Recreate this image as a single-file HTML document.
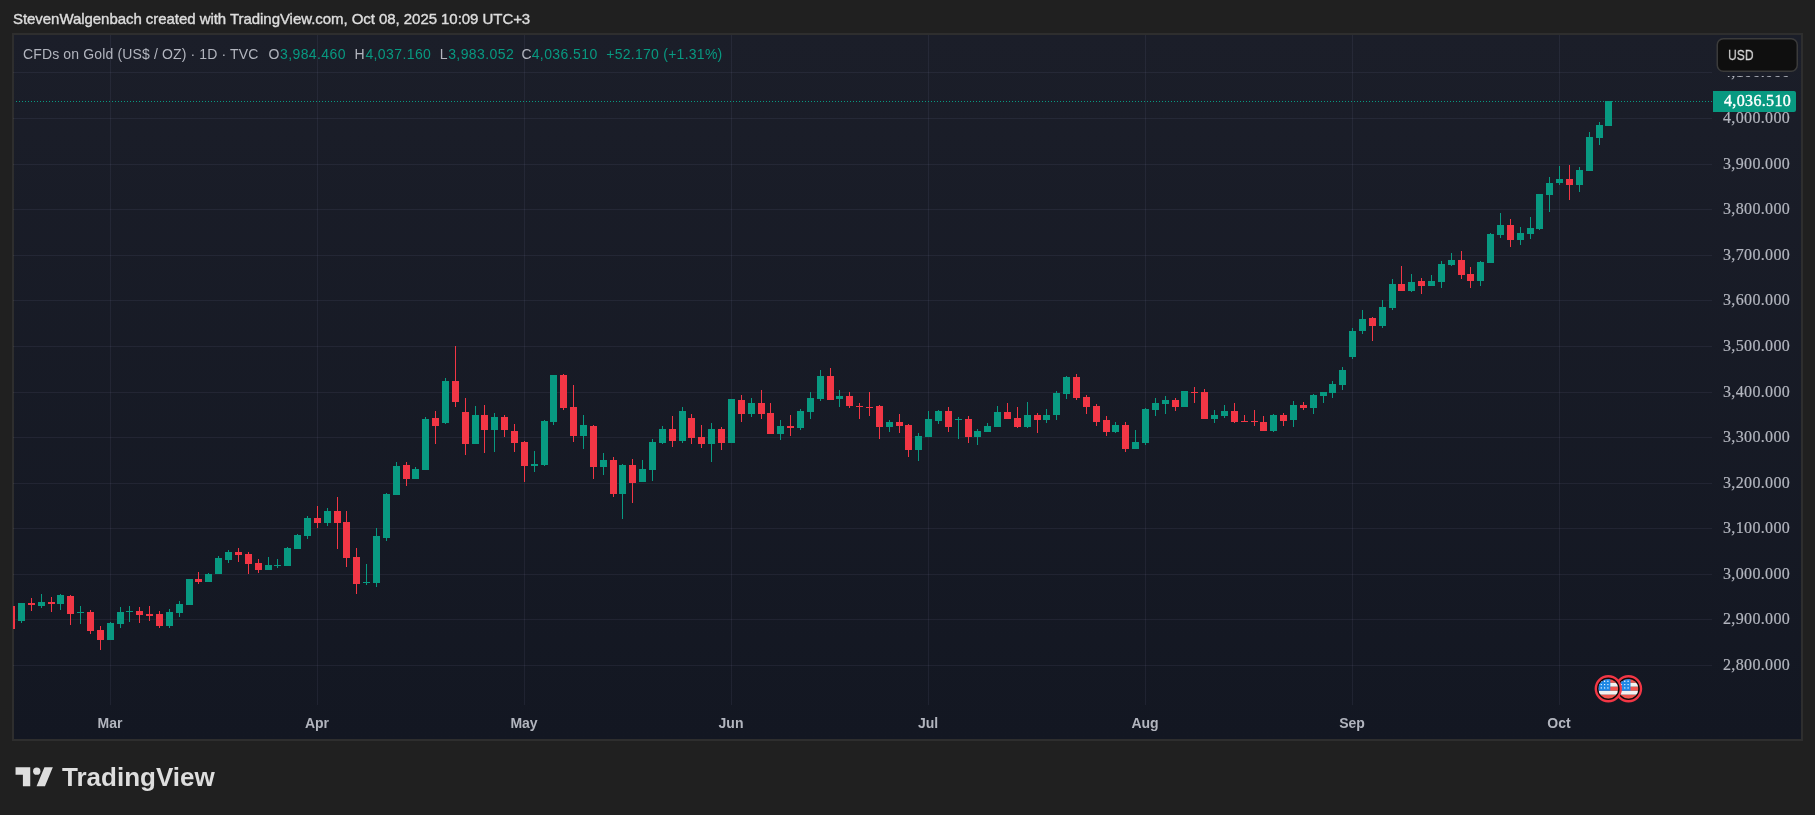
<!DOCTYPE html><html><head><meta charset="utf-8"><style>
html,body{margin:0;padding:0}
.t,.pl,#lastp,#usd,.ml,#tvtext{will-change:transform}
body{width:1815px;height:815px;overflow:hidden;background:#202020;position:relative}
.t{position:absolute;font-family:"Liberation Sans",sans-serif;white-space:nowrap}
#title{left:13px;top:10px;font-size:15px;line-height:18px;color:#dcdcdc;letter-spacing:-0.05px;-webkit-text-stroke:0.4px #dcdcdc}
#legend{left:23px;top:45px;height:18px;width:800px}
#legend span{position:absolute;top:0;font-size:14px;letter-spacing:0.14px;line-height:18px;white-space:nowrap;font-family:"Liberation Sans",sans-serif}
#legend span:first-child{left:0}
.lg{color:#b2b5be}
.gv{color:#089981;letter-spacing:0.4px!important}
.pl{position:absolute;left:1722.6px;width:70px;height:20px;line-height:20px;font-family:"Liberation Serif",serif;font-size:16px;color:#b2b5be;white-space:nowrap;letter-spacing:0.35px;-webkit-text-stroke:0.2px #b2b5be}
#lastp{position:absolute;left:1723.5px;top:90px;width:75px;height:21px;line-height:21px;font-family:"Liberation Serif",serif;font-size:16px;letter-spacing:0.35px;color:#ffffff;-webkit-text-stroke:0.4px #ffffff;white-space:nowrap}
#usd{position:absolute;left:1728.4px;top:44.5px;line-height:20px;font-family:"Liberation Sans",sans-serif;font-size:15px;color:#dcdcdc;transform:scaleX(0.81);transform-origin:0 0;-webkit-text-stroke:0.3px #dcdcdc}
.ml{position:absolute;top:713px;width:80px;text-align:center;line-height:20px;font-family:"Liberation Sans",sans-serif;font-size:14px;font-weight:bold;color:#b2b5be}
#tvtext{position:absolute;left:62px;top:761px;line-height:32px;font-family:"Liberation Sans",sans-serif;font-size:26px;font-weight:bold;color:#dedede}
</style></head><body><svg width="1815" height="815" viewBox="0 0 1815 815" style="position:absolute;left:0;top:0"><defs><linearGradient id="bg" x1="0" y1="0" x2="0" y2="1"><stop offset="0" stop-color="#1b1e29"/><stop offset="1" stop-color="#131722"/></linearGradient><clipPath id="pane"><rect x="13" y="35" width="1699" height="670"/></clipPath></defs><rect x="12" y="33" width="1791" height="708" fill="#2e2e2e"/><rect x="14" y="35" width="1787" height="704" fill="url(#bg)"/><g shape-rendering="crispEdges"><rect x="13" y="72" width="1699" height="1" fill="rgba(160,158,210,0.085)"/><rect x="13" y="118" width="1699" height="1" fill="rgba(160,158,210,0.085)"/><rect x="13" y="164" width="1699" height="1" fill="rgba(160,158,210,0.085)"/><rect x="13" y="209" width="1699" height="1" fill="rgba(160,158,210,0.085)"/><rect x="13" y="255" width="1699" height="1" fill="rgba(160,158,210,0.085)"/><rect x="13" y="300" width="1699" height="1" fill="rgba(160,158,210,0.085)"/><rect x="13" y="346" width="1699" height="1" fill="rgba(160,158,210,0.085)"/><rect x="13" y="392" width="1699" height="1" fill="rgba(160,158,210,0.085)"/><rect x="13" y="437" width="1699" height="1" fill="rgba(160,158,210,0.085)"/><rect x="13" y="483" width="1699" height="1" fill="rgba(160,158,210,0.085)"/><rect x="13" y="528" width="1699" height="1" fill="rgba(160,158,210,0.085)"/><rect x="13" y="574" width="1699" height="1" fill="rgba(160,158,210,0.085)"/><rect x="13" y="619" width="1699" height="1" fill="rgba(160,158,210,0.085)"/><rect x="13" y="665" width="1699" height="1" fill="rgba(160,158,210,0.085)"/><rect x="110" y="35" width="1" height="670" fill="rgba(160,158,210,0.085)"/><rect x="317" y="35" width="1" height="670" fill="rgba(160,158,210,0.085)"/><rect x="524" y="35" width="1" height="670" fill="rgba(160,158,210,0.085)"/><rect x="731" y="35" width="1" height="670" fill="rgba(160,158,210,0.085)"/><rect x="928" y="35" width="1" height="670" fill="rgba(160,158,210,0.085)"/><rect x="1145" y="35" width="1" height="670" fill="rgba(160,158,210,0.085)"/><rect x="1352" y="35" width="1" height="670" fill="rgba(160,158,210,0.085)"/><rect x="1559" y="35" width="1" height="670" fill="rgba(160,158,210,0.085)"/></g><line x1="16" y1="101.5" x2="1712" y2="101.5" stroke="#089981" stroke-width="1" stroke-dasharray="1 2"/><g clip-path="url(#pane)" shape-rendering="crispEdges"><rect x="11" y="606" width="1" height="23" fill="#f23645"/><rect x="8" y="606" width="7" height="23" fill="#f23645"/><rect x="21" y="603" width="1" height="20" fill="#089981"/><rect x="18" y="603" width="7" height="18" fill="#089981"/><rect x="31" y="598" width="1" height="13" fill="#f23645"/><rect x="28" y="603" width="7" height="2" fill="#f23645"/><rect x="41" y="594" width="1" height="14" fill="#089981"/><rect x="38" y="602" width="7" height="4" fill="#089981"/><rect x="51" y="597" width="1" height="15" fill="#f23645"/><rect x="48" y="602" width="7" height="2" fill="#f23645"/><rect x="60" y="594" width="1" height="16" fill="#089981"/><rect x="57" y="595" width="7" height="9" fill="#089981"/><rect x="70" y="595" width="1" height="30" fill="#f23645"/><rect x="67" y="596" width="7" height="18" fill="#f23645"/><rect x="80" y="606" width="1" height="18" fill="#089981"/><rect x="77" y="612" width="7" height="1" fill="#089981"/><rect x="90" y="610" width="1" height="24" fill="#f23645"/><rect x="87" y="612" width="7" height="19" fill="#f23645"/><rect x="100" y="626" width="1" height="24" fill="#f23645"/><rect x="97" y="630" width="7" height="10" fill="#f23645"/><rect x="110" y="622" width="1" height="18" fill="#089981"/><rect x="107" y="623" width="7" height="17" fill="#089981"/><rect x="120" y="607" width="1" height="21" fill="#089981"/><rect x="117" y="612" width="7" height="12" fill="#089981"/><rect x="129" y="606" width="1" height="16" fill="#089981"/><rect x="126" y="611" width="7" height="1" fill="#089981"/><rect x="139" y="607" width="1" height="16" fill="#f23645"/><rect x="136" y="611" width="7" height="4" fill="#f23645"/><rect x="149" y="606" width="1" height="15" fill="#f23645"/><rect x="146" y="614" width="7" height="2" fill="#f23645"/><rect x="159" y="611" width="1" height="17" fill="#f23645"/><rect x="156" y="614" width="7" height="12" fill="#f23645"/><rect x="169" y="609" width="1" height="19" fill="#089981"/><rect x="166" y="612" width="7" height="14" fill="#089981"/><rect x="179" y="601" width="1" height="16" fill="#089981"/><rect x="176" y="604" width="7" height="9" fill="#089981"/><rect x="189" y="579" width="1" height="26" fill="#089981"/><rect x="186" y="579" width="7" height="26" fill="#089981"/><rect x="198" y="572" width="1" height="12" fill="#f23645"/><rect x="195" y="579" width="7" height="3" fill="#f23645"/><rect x="208" y="573" width="1" height="9" fill="#089981"/><rect x="205" y="574" width="7" height="8" fill="#089981"/><rect x="218" y="556" width="1" height="18" fill="#089981"/><rect x="215" y="558" width="7" height="16" fill="#089981"/><rect x="228" y="550" width="1" height="13" fill="#089981"/><rect x="225" y="552" width="7" height="8" fill="#089981"/><rect x="238" y="548" width="1" height="14" fill="#f23645"/><rect x="235" y="552" width="7" height="3" fill="#f23645"/><rect x="248" y="552" width="1" height="22" fill="#f23645"/><rect x="245" y="554" width="7" height="10" fill="#f23645"/><rect x="258" y="559" width="1" height="14" fill="#f23645"/><rect x="255" y="563" width="7" height="7" fill="#f23645"/><rect x="268" y="557" width="1" height="13" fill="#089981"/><rect x="265" y="565" width="7" height="5" fill="#089981"/><rect x="277" y="559" width="1" height="9" fill="#089981"/><rect x="274" y="565" width="7" height="1" fill="#089981"/><rect x="287" y="547" width="1" height="19" fill="#089981"/><rect x="284" y="548" width="7" height="18" fill="#089981"/><rect x="297" y="534" width="1" height="15" fill="#089981"/><rect x="294" y="535" width="7" height="14" fill="#089981"/><rect x="307" y="516" width="1" height="23" fill="#089981"/><rect x="304" y="518" width="7" height="18" fill="#089981"/><rect x="317" y="506" width="1" height="22" fill="#f23645"/><rect x="314" y="518" width="7" height="5" fill="#f23645"/><rect x="327" y="508" width="1" height="18" fill="#089981"/><rect x="324" y="511" width="7" height="12" fill="#089981"/><rect x="337" y="497" width="1" height="52" fill="#f23645"/><rect x="334" y="511" width="7" height="12" fill="#f23645"/><rect x="346" y="511" width="1" height="56" fill="#f23645"/><rect x="343" y="522" width="7" height="36" fill="#f23645"/><rect x="356" y="548" width="1" height="46" fill="#f23645"/><rect x="353" y="557" width="7" height="27" fill="#f23645"/><rect x="366" y="564" width="1" height="21" fill="#089981"/><rect x="363" y="582" width="7" height="1" fill="#089981"/><rect x="376" y="528" width="1" height="59" fill="#089981"/><rect x="373" y="536" width="7" height="47" fill="#089981"/><rect x="386" y="493" width="1" height="48" fill="#089981"/><rect x="383" y="494" width="7" height="44" fill="#089981"/><rect x="396" y="462" width="1" height="33" fill="#089981"/><rect x="393" y="466" width="7" height="29" fill="#089981"/><rect x="406" y="462" width="1" height="24" fill="#f23645"/><rect x="403" y="465" width="7" height="14" fill="#f23645"/><rect x="415" y="467" width="1" height="12" fill="#089981"/><rect x="412" y="469" width="7" height="10" fill="#089981"/><rect x="425" y="417" width="1" height="53" fill="#089981"/><rect x="422" y="419" width="7" height="51" fill="#089981"/><rect x="435" y="411" width="1" height="33" fill="#f23645"/><rect x="432" y="418" width="7" height="8" fill="#f23645"/><rect x="445" y="378" width="1" height="46" fill="#089981"/><rect x="442" y="381" width="7" height="42" fill="#089981"/><rect x="455" y="346" width="1" height="61" fill="#f23645"/><rect x="452" y="381" width="7" height="21" fill="#f23645"/><rect x="465" y="398" width="1" height="57" fill="#f23645"/><rect x="462" y="412" width="7" height="32" fill="#f23645"/><rect x="475" y="406" width="1" height="38" fill="#089981"/><rect x="472" y="415" width="7" height="29" fill="#089981"/><rect x="484" y="405" width="1" height="48" fill="#f23645"/><rect x="481" y="415" width="7" height="15" fill="#f23645"/><rect x="494" y="413" width="1" height="39" fill="#089981"/><rect x="491" y="417" width="7" height="13" fill="#089981"/><rect x="504" y="415" width="1" height="22" fill="#f23645"/><rect x="501" y="417" width="7" height="13" fill="#f23645"/><rect x="514" y="424" width="1" height="28" fill="#f23645"/><rect x="511" y="431" width="7" height="12" fill="#f23645"/><rect x="524" y="441" width="1" height="41" fill="#f23645"/><rect x="521" y="442" width="7" height="24" fill="#f23645"/><rect x="534" y="451" width="1" height="21" fill="#089981"/><rect x="531" y="464" width="7" height="2" fill="#089981"/><rect x="544" y="420" width="1" height="46" fill="#089981"/><rect x="541" y="421" width="7" height="44" fill="#089981"/><rect x="553" y="375" width="1" height="50" fill="#089981"/><rect x="550" y="375" width="7" height="47" fill="#089981"/><rect x="563" y="374" width="1" height="36" fill="#f23645"/><rect x="560" y="375" width="7" height="33" fill="#f23645"/><rect x="573" y="385" width="1" height="57" fill="#f23645"/><rect x="570" y="407" width="7" height="29" fill="#f23645"/><rect x="583" y="415" width="1" height="34" fill="#089981"/><rect x="580" y="425" width="7" height="11" fill="#089981"/><rect x="593" y="425" width="1" height="54" fill="#f23645"/><rect x="590" y="426" width="7" height="41" fill="#f23645"/><rect x="603" y="453" width="1" height="22" fill="#089981"/><rect x="600" y="460" width="7" height="7" fill="#089981"/><rect x="613" y="457" width="1" height="40" fill="#f23645"/><rect x="610" y="460" width="7" height="34" fill="#f23645"/><rect x="622" y="464" width="1" height="55" fill="#089981"/><rect x="619" y="465" width="7" height="29" fill="#089981"/><rect x="632" y="459" width="1" height="44" fill="#f23645"/><rect x="629" y="465" width="7" height="18" fill="#f23645"/><rect x="642" y="460" width="1" height="22" fill="#089981"/><rect x="639" y="469" width="7" height="13" fill="#089981"/><rect x="652" y="439" width="1" height="42" fill="#089981"/><rect x="649" y="442" width="7" height="28" fill="#089981"/><rect x="662" y="426" width="1" height="18" fill="#089981"/><rect x="659" y="429" width="7" height="14" fill="#089981"/><rect x="672" y="416" width="1" height="31" fill="#f23645"/><rect x="669" y="429" width="7" height="12" fill="#f23645"/><rect x="682" y="407" width="1" height="36" fill="#089981"/><rect x="679" y="411" width="7" height="30" fill="#089981"/><rect x="691" y="414" width="1" height="30" fill="#f23645"/><rect x="688" y="418" width="7" height="20" fill="#f23645"/><rect x="701" y="425" width="1" height="23" fill="#f23645"/><rect x="698" y="437" width="7" height="7" fill="#f23645"/><rect x="711" y="423" width="1" height="39" fill="#089981"/><rect x="708" y="429" width="7" height="15" fill="#089981"/><rect x="721" y="427" width="1" height="23" fill="#f23645"/><rect x="718" y="429" width="7" height="14" fill="#f23645"/><rect x="731" y="399" width="1" height="44" fill="#089981"/><rect x="728" y="399" width="7" height="44" fill="#089981"/><rect x="741" y="395" width="1" height="27" fill="#f23645"/><rect x="738" y="400" width="7" height="14" fill="#f23645"/><rect x="751" y="398" width="1" height="19" fill="#089981"/><rect x="748" y="403" width="7" height="11" fill="#089981"/><rect x="761" y="390" width="1" height="29" fill="#f23645"/><rect x="758" y="403" width="7" height="11" fill="#f23645"/><rect x="770" y="403" width="1" height="31" fill="#f23645"/><rect x="767" y="413" width="7" height="21" fill="#f23645"/><rect x="780" y="420" width="1" height="20" fill="#089981"/><rect x="777" y="426" width="7" height="8" fill="#089981"/><rect x="790" y="415" width="1" height="21" fill="#f23645"/><rect x="787" y="426" width="7" height="2" fill="#f23645"/><rect x="800" y="409" width="1" height="21" fill="#089981"/><rect x="797" y="411" width="7" height="17" fill="#089981"/><rect x="810" y="392" width="1" height="27" fill="#089981"/><rect x="807" y="398" width="7" height="14" fill="#089981"/><rect x="820" y="370" width="1" height="31" fill="#089981"/><rect x="817" y="376" width="7" height="23" fill="#089981"/><rect x="830" y="368" width="1" height="32" fill="#f23645"/><rect x="827" y="376" width="7" height="24" fill="#f23645"/><rect x="839" y="390" width="1" height="17" fill="#089981"/><rect x="836" y="396" width="7" height="3" fill="#089981"/><rect x="849" y="392" width="1" height="16" fill="#f23645"/><rect x="846" y="396" width="7" height="10" fill="#f23645"/><rect x="859" y="403" width="1" height="16" fill="#f23645"/><rect x="856" y="406" width="7" height="1" fill="#f23645"/><rect x="869" y="392" width="1" height="24" fill="#f23645"/><rect x="866" y="407" width="7" height="1" fill="#f23645"/><rect x="879" y="405" width="1" height="34" fill="#f23645"/><rect x="876" y="406" width="7" height="21" fill="#f23645"/><rect x="889" y="420" width="1" height="12" fill="#089981"/><rect x="886" y="422" width="7" height="5" fill="#089981"/><rect x="899" y="414" width="1" height="19" fill="#f23645"/><rect x="896" y="422" width="7" height="4" fill="#f23645"/><rect x="908" y="424" width="1" height="33" fill="#f23645"/><rect x="905" y="425" width="7" height="25" fill="#f23645"/><rect x="918" y="433" width="1" height="28" fill="#089981"/><rect x="915" y="436" width="7" height="14" fill="#089981"/><rect x="928" y="411" width="1" height="26" fill="#089981"/><rect x="925" y="419" width="7" height="18" fill="#089981"/><rect x="938" y="410" width="1" height="14" fill="#089981"/><rect x="935" y="411" width="7" height="10" fill="#089981"/><rect x="948" y="407" width="1" height="25" fill="#f23645"/><rect x="945" y="411" width="7" height="16" fill="#f23645"/><rect x="958" y="417" width="1" height="22" fill="#089981"/><rect x="955" y="419" width="7" height="1" fill="#089981"/><rect x="968" y="416" width="1" height="27" fill="#f23645"/><rect x="965" y="419" width="7" height="18" fill="#f23645"/><rect x="977" y="429" width="1" height="16" fill="#089981"/><rect x="974" y="431" width="7" height="6" fill="#089981"/><rect x="987" y="423" width="1" height="9" fill="#089981"/><rect x="984" y="426" width="7" height="6" fill="#089981"/><rect x="997" y="406" width="1" height="21" fill="#089981"/><rect x="994" y="412" width="7" height="15" fill="#089981"/><rect x="1007" y="403" width="1" height="16" fill="#f23645"/><rect x="1004" y="412" width="7" height="7" fill="#f23645"/><rect x="1017" y="407" width="1" height="21" fill="#f23645"/><rect x="1014" y="418" width="7" height="9" fill="#f23645"/><rect x="1027" y="402" width="1" height="26" fill="#089981"/><rect x="1024" y="415" width="7" height="12" fill="#089981"/><rect x="1037" y="413" width="1" height="20" fill="#f23645"/><rect x="1034" y="415" width="7" height="5" fill="#f23645"/><rect x="1046" y="409" width="1" height="14" fill="#089981"/><rect x="1043" y="415" width="7" height="5" fill="#089981"/><rect x="1056" y="391" width="1" height="29" fill="#089981"/><rect x="1053" y="393" width="7" height="22" fill="#089981"/><rect x="1066" y="376" width="1" height="23" fill="#089981"/><rect x="1063" y="377" width="7" height="17" fill="#089981"/><rect x="1076" y="374" width="1" height="26" fill="#f23645"/><rect x="1073" y="377" width="7" height="21" fill="#f23645"/><rect x="1086" y="395" width="1" height="19" fill="#f23645"/><rect x="1083" y="397" width="7" height="10" fill="#f23645"/><rect x="1096" y="404" width="1" height="22" fill="#f23645"/><rect x="1093" y="406" width="7" height="16" fill="#f23645"/><rect x="1106" y="416" width="1" height="20" fill="#f23645"/><rect x="1103" y="420" width="7" height="12" fill="#f23645"/><rect x="1115" y="422" width="1" height="11" fill="#089981"/><rect x="1112" y="425" width="7" height="7" fill="#089981"/><rect x="1125" y="422" width="1" height="30" fill="#f23645"/><rect x="1122" y="425" width="7" height="24" fill="#f23645"/><rect x="1135" y="430" width="1" height="19" fill="#089981"/><rect x="1132" y="442" width="7" height="7" fill="#089981"/><rect x="1145" y="408" width="1" height="37" fill="#089981"/><rect x="1142" y="409" width="7" height="34" fill="#089981"/><rect x="1155" y="398" width="1" height="18" fill="#089981"/><rect x="1152" y="403" width="7" height="7" fill="#089981"/><rect x="1165" y="396" width="1" height="18" fill="#089981"/><rect x="1162" y="400" width="7" height="4" fill="#089981"/><rect x="1175" y="398" width="1" height="13" fill="#f23645"/><rect x="1172" y="400" width="7" height="7" fill="#f23645"/><rect x="1184" y="391" width="1" height="16" fill="#089981"/><rect x="1181" y="391" width="7" height="16" fill="#089981"/><rect x="1194" y="387" width="1" height="16" fill="#f23645"/><rect x="1191" y="392" width="7" height="1" fill="#f23645"/><rect x="1204" y="389" width="1" height="30" fill="#f23645"/><rect x="1201" y="392" width="7" height="27" fill="#f23645"/><rect x="1214" y="410" width="1" height="13" fill="#089981"/><rect x="1211" y="415" width="7" height="4" fill="#089981"/><rect x="1224" y="405" width="1" height="13" fill="#089981"/><rect x="1221" y="411" width="7" height="5" fill="#089981"/><rect x="1234" y="403" width="1" height="20" fill="#f23645"/><rect x="1231" y="411" width="7" height="11" fill="#f23645"/><rect x="1244" y="415" width="1" height="7" fill="#f23645"/><rect x="1241" y="421" width="7" height="1" fill="#f23645"/><rect x="1254" y="410" width="1" height="16" fill="#f23645"/><rect x="1251" y="421" width="7" height="1" fill="#f23645"/><rect x="1263" y="416" width="1" height="15" fill="#f23645"/><rect x="1260" y="422" width="7" height="9" fill="#f23645"/><rect x="1273" y="414" width="1" height="18" fill="#089981"/><rect x="1270" y="415" width="7" height="16" fill="#089981"/><rect x="1283" y="413" width="1" height="13" fill="#f23645"/><rect x="1280" y="415" width="7" height="6" fill="#f23645"/><rect x="1293" y="401" width="1" height="26" fill="#089981"/><rect x="1290" y="405" width="7" height="15" fill="#089981"/><rect x="1303" y="402" width="1" height="8" fill="#f23645"/><rect x="1300" y="405" width="7" height="3" fill="#f23645"/><rect x="1313" y="394" width="1" height="20" fill="#089981"/><rect x="1310" y="395" width="7" height="13" fill="#089981"/><rect x="1323" y="392" width="1" height="11" fill="#089981"/><rect x="1320" y="392" width="7" height="4" fill="#089981"/><rect x="1332" y="381" width="1" height="17" fill="#089981"/><rect x="1329" y="384" width="7" height="9" fill="#089981"/><rect x="1342" y="367" width="1" height="23" fill="#089981"/><rect x="1339" y="370" width="7" height="15" fill="#089981"/><rect x="1352" y="328" width="1" height="31" fill="#089981"/><rect x="1349" y="331" width="7" height="26" fill="#089981"/><rect x="1362" y="310" width="1" height="24" fill="#089981"/><rect x="1359" y="319" width="7" height="12" fill="#089981"/><rect x="1372" y="317" width="1" height="24" fill="#f23645"/><rect x="1369" y="318" width="7" height="8" fill="#f23645"/><rect x="1382" y="300" width="1" height="28" fill="#089981"/><rect x="1379" y="307" width="7" height="19" fill="#089981"/><rect x="1392" y="279" width="1" height="31" fill="#089981"/><rect x="1389" y="284" width="7" height="24" fill="#089981"/><rect x="1401" y="266" width="1" height="25" fill="#f23645"/><rect x="1398" y="284" width="7" height="7" fill="#f23645"/><rect x="1411" y="274" width="1" height="18" fill="#089981"/><rect x="1408" y="282" width="7" height="9" fill="#089981"/><rect x="1421" y="278" width="1" height="16" fill="#f23645"/><rect x="1418" y="281" width="7" height="5" fill="#f23645"/><rect x="1431" y="275" width="1" height="11" fill="#089981"/><rect x="1428" y="281" width="7" height="5" fill="#089981"/><rect x="1441" y="261" width="1" height="27" fill="#089981"/><rect x="1438" y="264" width="7" height="18" fill="#089981"/><rect x="1451" y="253" width="1" height="13" fill="#089981"/><rect x="1448" y="260" width="7" height="5" fill="#089981"/><rect x="1461" y="251" width="1" height="28" fill="#f23645"/><rect x="1458" y="260" width="7" height="15" fill="#f23645"/><rect x="1470" y="267" width="1" height="21" fill="#f23645"/><rect x="1467" y="274" width="7" height="7" fill="#f23645"/><rect x="1480" y="261" width="1" height="25" fill="#089981"/><rect x="1477" y="262" width="7" height="19" fill="#089981"/><rect x="1490" y="233" width="1" height="30" fill="#089981"/><rect x="1487" y="234" width="7" height="29" fill="#089981"/><rect x="1500" y="213" width="1" height="25" fill="#089981"/><rect x="1497" y="225" width="7" height="10" fill="#089981"/><rect x="1510" y="219" width="1" height="28" fill="#f23645"/><rect x="1507" y="225" width="7" height="15" fill="#f23645"/><rect x="1520" y="227" width="1" height="18" fill="#089981"/><rect x="1517" y="233" width="7" height="7" fill="#089981"/><rect x="1530" y="217" width="1" height="22" fill="#089981"/><rect x="1527" y="228" width="7" height="6" fill="#089981"/><rect x="1539" y="194" width="1" height="36" fill="#089981"/><rect x="1536" y="194" width="7" height="35" fill="#089981"/><rect x="1549" y="177" width="1" height="35" fill="#089981"/><rect x="1546" y="183" width="7" height="12" fill="#089981"/><rect x="1559" y="166" width="1" height="19" fill="#089981"/><rect x="1556" y="179" width="7" height="4" fill="#089981"/><rect x="1569" y="165" width="1" height="35" fill="#f23645"/><rect x="1566" y="179" width="7" height="6" fill="#f23645"/><rect x="1579" y="167" width="1" height="25" fill="#089981"/><rect x="1576" y="170" width="7" height="15" fill="#089981"/><rect x="1589" y="132" width="1" height="39" fill="#089981"/><rect x="1586" y="137" width="7" height="34" fill="#089981"/><rect x="1599" y="122" width="1" height="23" fill="#089981"/><rect x="1596" y="125" width="7" height="13" fill="#089981"/><rect x="1608" y="101" width="1" height="25" fill="#089981"/><rect x="1605" y="101" width="7" height="25" fill="#089981"/></g><path d="M1713 91 H1794 Q1796 91 1796 93 V110 Q1796 112 1794 112 H1713 Z" fill="#089981"/><rect x="1717.25" y="38.75" width="80" height="32.5" rx="6" ry="6" fill="#0f0f0f" stroke="#3b3b3b" stroke-width="1.5"/><circle cx="1628.5" cy="688.8" r="12.5" fill="#0b0b0b" stroke="#f23645" stroke-width="2.4"/><clipPath id="fc1628.5"><circle cx="1628.5" cy="688.8" r="9.9"/></clipPath><g clip-path="url(#fc1628.5)"><rect x="1618.5" y="678.8" width="20" height="4" fill="#f0554f"/><rect x="1618.5" y="682.8" width="20" height="4" fill="#f2f2f2"/><rect x="1618.5" y="686.8" width="20" height="4" fill="#f0554f"/><rect x="1618.5" y="690.8" width="20" height="4" fill="#f2f2f2"/><rect x="1618.5" y="694.8" width="20" height="4" fill="#f0554f"/><rect x="1618.5" y="678.8" width="12" height="12" fill="#1e88e5"/><circle cx="1621.5" cy="681.3" r="0.7" fill="#ffffff"/><circle cx="1624.8" cy="681.3" r="0.7" fill="#ffffff"/><circle cx="1628.1" cy="681.3" r="0.7" fill="#ffffff"/><circle cx="1621.5" cy="684.6" r="0.7" fill="#ffffff"/><circle cx="1624.8" cy="684.6" r="0.7" fill="#ffffff"/><circle cx="1628.1" cy="684.6" r="0.7" fill="#ffffff"/><circle cx="1621.5" cy="687.9" r="0.7" fill="#ffffff"/><circle cx="1624.8" cy="687.9" r="0.7" fill="#ffffff"/><circle cx="1628.1" cy="687.9" r="0.7" fill="#ffffff"/></g><circle cx="1608.3" cy="688.8" r="12.5" fill="#0b0b0b" stroke="#f23645" stroke-width="2.4"/><clipPath id="fc1608.3"><circle cx="1608.3" cy="688.8" r="9.9"/></clipPath><g clip-path="url(#fc1608.3)"><rect x="1598.3" y="678.8" width="20" height="4" fill="#f0554f"/><rect x="1598.3" y="682.8" width="20" height="4" fill="#f2f2f2"/><rect x="1598.3" y="686.8" width="20" height="4" fill="#f0554f"/><rect x="1598.3" y="690.8" width="20" height="4" fill="#f2f2f2"/><rect x="1598.3" y="694.8" width="20" height="4" fill="#f0554f"/><rect x="1598.3" y="678.8" width="12" height="12" fill="#1e88e5"/><circle cx="1601.3" cy="681.3" r="0.7" fill="#ffffff"/><circle cx="1604.6" cy="681.3" r="0.7" fill="#ffffff"/><circle cx="1607.9" cy="681.3" r="0.7" fill="#ffffff"/><circle cx="1601.3" cy="684.6" r="0.7" fill="#ffffff"/><circle cx="1604.6" cy="684.6" r="0.7" fill="#ffffff"/><circle cx="1607.9" cy="684.6" r="0.7" fill="#ffffff"/><circle cx="1601.3" cy="687.9" r="0.7" fill="#ffffff"/><circle cx="1604.6" cy="687.9" r="0.7" fill="#ffffff"/><circle cx="1607.9" cy="687.9" r="0.7" fill="#ffffff"/></g><g transform="translate(15.55,763.1) scale(1.05)" fill="#dedede"><path d="M14 22H7V11H0V4h14v18zM28 22h-8l7.5-18h8L28 22z"/><circle cx="20.2" cy="7.7" r="3.5"/></g></svg><div id="title" class="t">StevenWalgenbach created with TradingView.com, Oct 08, 2025 10:09 UTC+3</div><div id="legend" class="t"><span class="lg">CFDs on Gold (US$ / OZ) · 1D · TVC</span><span class="lg" style="left:245.6px">O</span><span class="gv" style="left:257px">3,984.460</span><span class="lg" style="left:331.6px">H</span><span class="gv" style="left:342.4px">4,037.160</span><span class="lg" style="left:416.8px">L</span><span class="gv" style="left:425.2px">3,983.052</span><span class="lg" style="left:498.5px">C</span><span class="gv" style="left:508.7px">4,036.510</span><span class="gv" style="left:583.3px;letter-spacing:0.26px!important">+52.170 (+1.31%)</span></div><div class="pl" style="top:108px">4,000.000</div><div class="pl" style="top:154px">3,900.000</div><div class="pl" style="top:199px">3,800.000</div><div class="pl" style="top:245px">3,700.000</div><div class="pl" style="top:290px">3,600.000</div><div class="pl" style="top:336px">3,500.000</div><div class="pl" style="top:382px">3,400.000</div><div class="pl" style="top:427px">3,300.000</div><div class="pl" style="top:473px">3,200.000</div><div class="pl" style="top:518px">3,100.000</div><div class="pl" style="top:564px">3,000.000</div><div class="pl" style="top:609px">2,900.000</div><div class="pl" style="top:655px">2,800.000</div><div class="pl" style="top:62px;clip-path:inset(14px 0 0 0)">4,100.000</div><div id="lastp">4,036.510</div><div id="usd">USD</div><div class="ml" style="left:70px">Mar</div><div class="ml" style="left:277px">Apr</div><div class="ml" style="left:484px">May</div><div class="ml" style="left:691px">Jun</div><div class="ml" style="left:888px">Jul</div><div class="ml" style="left:1105px">Aug</div><div class="ml" style="left:1312px">Sep</div><div class="ml" style="left:1519px">Oct</div><div id="tvtext">TradingView</div></body></html>
